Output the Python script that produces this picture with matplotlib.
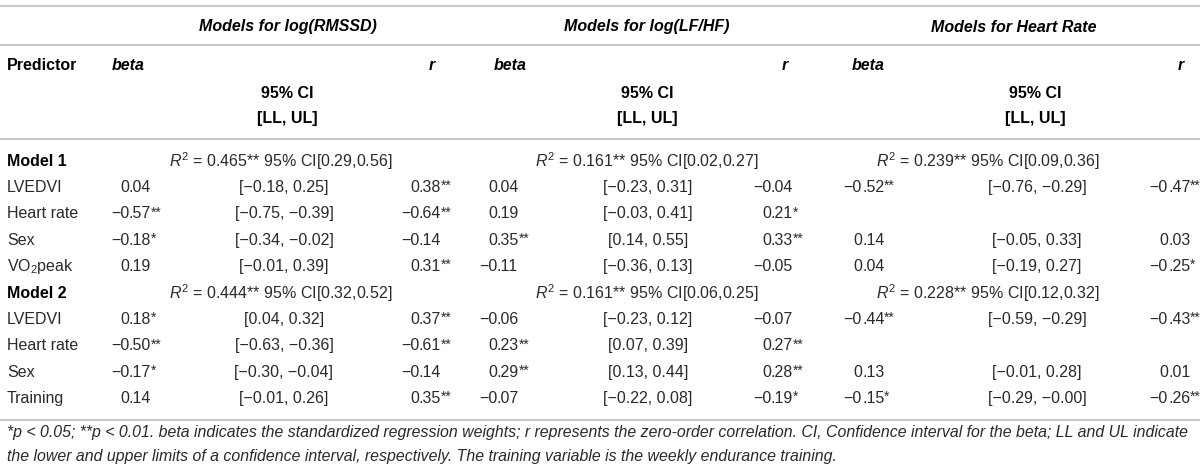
import matplotlib.pyplot as plt
import numpy as np

plt.rcParams['font.family'] = ['Liberation Sans', 'DejaVu Sans']
plt.rcParams['mathtext.fontset'] = 'custom'
plt.rcParams['mathtext.rm'] = 'Liberation Sans'
plt.rcParams['mathtext.it'] = 'Liberation Sans:italic'
plt.rcParams['mathtext.bf'] = 'Liberation Sans:bold'

nan = np.nan

###########################################################################################################################
# Table data
###########################################################################################################################
outcomes = ["Models for log(RMSSD)", "Models for log(LF/HF)", "Models for Heart Rate"]
model_names = ["Model 1", "Model 2"]
predictors_m1 = ["LVEDVI", "Heart rate", "Sex", r"VO$_2$peak"]
predictors_m2 = ["LVEDVI", "Heart rate", "Sex", "Training"]

# R^2 per model (model 1, model 2) for each outcome
r2_value = [[0.465, 0.444], [0.161, 0.161], [0.239, 0.228]]
r2_ci_lo = [[0.29, 0.32], [0.02, 0.06], [0.09, 0.12]]
r2_ci_hi = [[0.56, 0.52], [0.27, 0.25], [0.36, 0.32]]

# rows: model 1 predictors then model 2 predictors
rmssd_beta = [0.04, -0.57, -0.18, 0.19, 0.18, -0.50, -0.17, 0.14]
rmssd_beta_sig = [0, 2, 1, 0, 1, 2, 1, 0]
rmssd_ci_lo = [-0.18, -0.75, -0.34, -0.01, 0.04, -0.63, -0.30, -0.01]
rmssd_ci_hi = [0.25, -0.39, -0.02, 0.39, 0.32, -0.36, -0.04, 0.26]
rmssd_r = [0.38, -0.64, -0.14, 0.31, 0.37, -0.61, -0.14, 0.35]
rmssd_r_sig = [2, 2, 0, 2, 2, 2, 0, 2]

lfhf_beta = [0.04, 0.19, 0.35, -0.11, -0.06, 0.23, 0.29, -0.07]
lfhf_beta_sig = [0, 0, 2, 0, 0, 2, 2, 0]
lfhf_ci_lo = [-0.23, -0.03, 0.14, -0.36, -0.23, 0.07, 0.13, -0.22]
lfhf_ci_hi = [0.31, 0.41, 0.55, 0.13, 0.12, 0.39, 0.44, 0.08]
lfhf_r = [-0.04, 0.21, 0.33, -0.05, -0.07, 0.27, 0.28, -0.19]
lfhf_r_sig = [0, 1, 2, 0, 0, 2, 2, 1]

hr_beta = [-0.52, nan, 0.14, 0.04, -0.44, nan, 0.13, -0.15]
hr_beta_sig = [2, 0, 0, 0, 2, 0, 0, 1]
hr_ci_lo = [-0.76, nan, -0.05, -0.19, -0.59, nan, -0.01, -0.29]
hr_ci_hi = [-0.29, nan, 0.33, 0.27, -0.29, nan, 0.28, -0.00]
hr_r = [-0.47, nan, 0.03, -0.25, -0.43, nan, 0.01, -0.26]
hr_r_sig = [2, 0, 0, 1, 2, 0, 0, 2]

footnote_1 = ("*p < 0.05; **p < 0.01. beta indicates the standardized regression weights; r represents the zero-order "
              "correlation. CI, Confidence interval for the beta; LL and UL indicate")
footnote_2 = ("the lower and upper limits of a confidence interval, respectively. "
              "The training variable is the weekly endurance training.")

###########################################################################################################################
# Layout
###########################################################################################################################
W, H = 1200, 471
fs = 11.5
fs_head = 11.5
text_col = '#2a2a2a'
line_col = '#c9c9c9'

# x positions per outcome block: beta decimal point, CI centre, r decimal point
beta_x = [129, 497, 862]
ci_x = [284, 648, 1037]
r_x = [419, 771, 1168]
beta_head_x = [128, 510, 868]
r_head_x = [432, 785, 1181]
ci_head_x = [287, 647, 1035]
title_x = [288, 647, 1014]
r2_x = [281, 647, 988]

row_y0 = 161
row_step = 26.4


def num(v):
    return f"{v:.2f}".replace('-', '\u2212')


def dec_text(ax, x, y, v, stars):
    # decimal aligned number, stars drawn a little smaller afterwards
    if np.isnan(v):
        return
    left, right = num(v).split('.')
    ax.text(x, y, left, ha='right', va='center', fontsize=fs, color=text_col)
    t = ax.text(x, y, '.' + right, ha='left', va='center', fontsize=fs, color=text_col)
    if stars:
        star_texts.append((t, '*' * stars, y))


fig = plt.figure(figsize=(W / 100, H / 100), dpi=100)
ax = fig.add_axes([0, 0, 1, 1])
ax.set_xlim(0, W)
ax.set_ylim(H, 0)
ax.axis('off')

for y in [6, 45, 139, 420]:
    ax.plot([0, W], [y, y], color=line_col, lw=1.5, solid_capstyle='butt')

# header
for i in range(3):
    ax.text(title_x[i], 27, outcomes[i], ha='center', va='center', fontsize=fs_head,
            fontweight='bold', fontstyle='italic', color='black')
    ax.text(beta_head_x[i], 66, 'beta', ha='center', va='center', fontsize=fs_head,
            fontweight='bold', fontstyle='italic', color='black')
    ax.text(r_head_x[i], 66, 'r', ha='center', va='center', fontsize=fs_head,
            fontweight='bold', fontstyle='italic', color='black')
    ax.text(ci_head_x[i], 93, '95% CI', ha='center', va='center', fontsize=fs_head,
            fontweight='bold', color='black')
    ax.text(ci_head_x[i], 119, '[LL, UL]', ha='center', va='center', fontsize=fs_head,
            fontweight='bold', color='black')
ax.text(7, 66, 'Predictor', ha='left', va='center', fontsize=fs_head, fontweight='bold', color='black')

# body
betas = [rmssd_beta, lfhf_beta, hr_beta]
beta_sigs = [rmssd_beta_sig, lfhf_beta_sig, hr_beta_sig]
ci_los = [rmssd_ci_lo, lfhf_ci_lo, hr_ci_lo]
ci_his = [rmssd_ci_hi, lfhf_ci_hi, hr_ci_hi]
rs = [rmssd_r, lfhf_r, hr_r]
r_sigs = [rmssd_r_sig, lfhf_r_sig, hr_r_sig]
star_texts = []

for m in range(2):
    y_model = row_y0 + m * 5 * row_step
    ax.text(7, y_model, model_names[m], ha='left', va='center', fontsize=fs_head, fontweight='bold', color='black')
    for i in range(3):
        label = (r"$R^2$ = " + f"{r2_value[i][m]:.3f}** 95% CI[{r2_ci_lo[i][m]:.2f},{r2_ci_hi[i][m]:.2f}]")
        ax.text(r2_x[i], y_model, label, ha='center', va='center', fontsize=fs, color=text_col)

    preds = predictors_m1 if m == 0 else predictors_m2
    for k, name in enumerate(preds):
        idx = m * 4 + k
        y = y_model + (k + 1) * row_step
        ax.text(7, y, name, ha='left', va='center', fontsize=fs, color=text_col)
        for i in range(3):
            dec_text(ax, beta_x[i], y, betas[i][idx], beta_sigs[i][idx])
            dec_text(ax, r_x[i], y, rs[i][idx], r_sigs[i][idx])
            if not np.isnan(ci_los[i][idx]):
                ax.text(ci_x[i], y, '[' + num(ci_los[i][idx]) + ', ' + num(ci_his[i][idx]) + ']',
                        ha='center', va='center', fontsize=fs, color=text_col)

# footnote, sized so the first line spans the table width
f1 = ax.text(7, 433, footnote_1, ha='left', va='center', fontsize=fs, fontstyle='italic', color=text_col)
f2 = ax.text(7, 457, footnote_2, ha='left', va='center', fontsize=fs, fontstyle='italic', color=text_col)
fig.canvas.draw()
w = f1.get_window_extent().width
new_fs = fs * 1186 / w
f1.set_fontsize(new_fs)
f2.set_fontsize(new_fs)

# significance stars right after each number
renderer = fig.canvas.get_renderer()
for t, s, y in star_texts:
    bb = t.get_window_extent(renderer)
    x_end = ax.transData.inverted().transform((bb.x1, bb.y0))[0]
    ax.text(x_end - 0.3, y - 1.5, s, ha='left', va='center', fontsize=fs * 0.85, color=text_col)

fig.savefig('out.png', dpi=100)
